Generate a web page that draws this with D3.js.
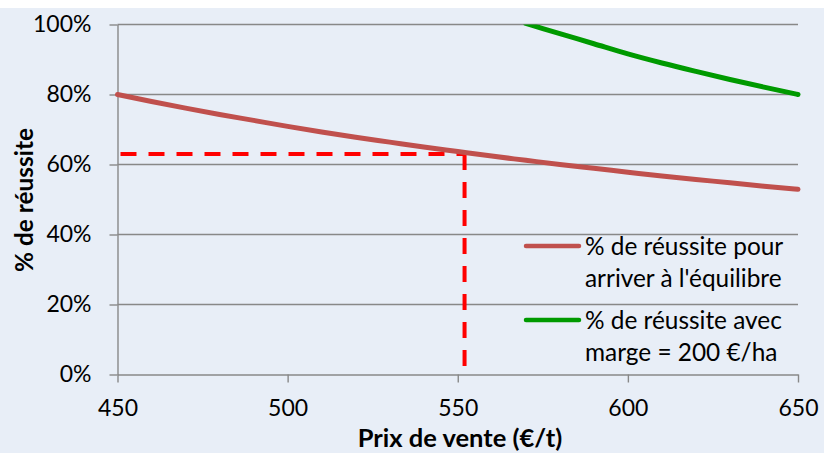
<!DOCTYPE html>
<html>
<head>
<meta charset="utf-8">
<script src="https://cdn.jsdelivr.net/npm/d3@7"></script>
<style>
  html, body { margin: 0; padding: 0; background: #ffffff; }
  svg { display: block; }
  text { font-family: Lato, "Open Sans", sans-serif; fill: #000; }
</style>
</head>
<body>
<svg id="chart" width="824" height="453"></svg>
<script>
// Prix de vente (€/t)
const prices = [450, 460, 470, 480, 490, 500, 510, 520, 530, 540, 550,
                560, 570, 580, 590, 600, 610, 620, 630, 640, 650];
// % de réussite pour arriver à l'équilibre
const breakEven = [0.800, 0.780, 0.761, 0.743, 0.726, 0.709, 0.693, 0.678, 0.664, 0.650, 0.637,
                   0.624, 0.612, 0.600, 0.589, 0.578, 0.567, 0.557, 0.548, 0.538, 0.529];
// % de réussite avec marge = 200 €/ha
const marginPrices = [570, 580, 590, 600, 610, 620, 630, 640, 650];
const marginValues = [1.003, 0.974, 0.945, 0.916, 0.890, 0.866, 0.843, 0.821, 0.800];
// Prix de vente retenu et % de réussite correspondant
const markerPrice = 552;
const markerValue = 0.63;

const xTicks = [450, 500, 550, 600, 650];
const yTicks = [0, 0.2, 0.4, 0.6, 0.8, 1.0];
const seriesNames = ["% de réussite pour|arriver à l'équilibre", "% de réussite avec|marge = 200 €/ha"];
const seriesColors = ["#c0504d", "#009a00"];

(function draw() {
  const svg = d3.select("#chart");
  const W = 824, H = 453;
  const mLeft = 117.5, mRight = 798, mTop = 24.5, mBottom = 374.5;

  svg.append("rect").attr("x", 0).attr("y", 8).attr("width", W).attr("height", H - 8)
    .attr("fill", "#e8eef7");

  const x = d3.scaleLinear().domain([450, 650]).range([mLeft, mRight]);
  const y = d3.scaleLinear().domain([0, 1]).range([mBottom, mTop]);

  const gridColor = "#888888";

  // Horizontal gridlines
  svg.append("g").selectAll("line").data(yTicks.filter(d => d > 0)).join("line")
    .attr("x1", mLeft).attr("x2", mRight)
    .attr("y1", d => y(d)).attr("y2", d => y(d))
    .attr("stroke", gridColor).attr("stroke-width", 1.4);

  // Y axis
  const yAxis = svg.append("g").attr("transform", `translate(${mLeft},0)`)
    .call(d3.axisLeft(y).tickValues(yTicks).tickFormat(d3.format(".0%")).tickSize(8).tickPadding(18).tickSizeOuter(0));
  yAxis.select(".domain").attr("stroke", gridColor).attr("stroke-width", 1.4);
  yAxis.selectAll(".tick line").attr("stroke", gridColor).attr("stroke-width", 1.4);
  yAxis.selectAll(".tick text").attr("font-size", 23).attr("font-family", "Lato").attr("fill", "#000");

  // X axis
  const xAxis = svg.append("g").attr("transform", `translate(0,${mBottom})`)
    .call(d3.axisBottom(x).tickValues(xTicks).tickFormat(d3.format("d")).tickSize(8).tickPadding(17).tickSizeOuter(0));
  xAxis.select(".domain").attr("stroke", gridColor).attr("stroke-width", 1.4);
  xAxis.selectAll(".tick line").attr("stroke", gridColor).attr("stroke-width", 1.4);
  xAxis.selectAll(".tick text").attr("font-size", 23).attr("font-family", "Lato").attr("fill", "#000");

  // Axis titles
  svg.append("text").attr("x", 460).attr("y", 447).attr("text-anchor", "middle")
    .attr("font-size", 25.5).attr("font-weight", "bold").text("Prix de vente (€/t)");
  svg.append("text").attr("transform", "translate(33,200) rotate(-90)").attr("text-anchor", "middle")
    .attr("font-size", 24.4).attr("font-weight", "bold").text("% de réussite");

  svg.append("clipPath").attr("id", "plot-clip").append("rect")
    .attr("x", mLeft).attr("y", mTop).attr("width", mRight - mLeft + 4).attr("height", mBottom - mTop);

  // Dashed reference lines
  const dash = "16 12";
  svg.append("line").attr("x1", x(450) + 3).attr("x2", x(markerPrice))
    .attr("y1", y(markerValue)).attr("y2", y(markerValue))
    .attr("stroke", "#ff0000").attr("stroke-width", 4).attr("stroke-dasharray", dash);
  svg.append("line").attr("x1", x(markerPrice)).attr("x2", x(markerPrice))
    .attr("y1", y(markerValue)).attr("y2", y(0))
    .attr("stroke", "#ff0000").attr("stroke-width", 4).attr("stroke-dasharray", dash);

  const line = d3.line().x(d => x(d[0])).y(d => y(d[1])).curve(d3.curveMonotoneX);

  svg.append("path").datum(prices.map((p, i) => [p, breakEven[i]]))
    .attr("d", line).attr("fill", "none").attr("stroke", seriesColors[0])
    .attr("stroke-width", 5).attr("stroke-linecap", "round");

  svg.append("g").attr("clip-path", "url(#plot-clip)")
    .append("path").datum(marginPrices.map((p, i) => [p, marginValues[i]]))
    .attr("d", line).attr("fill", "none").attr("stroke", seriesColors[1])
    .attr("stroke-width", 5).attr("stroke-linecap", "round");

  // Legend
  const legendY = [246, 320];
  seriesNames.forEach((name, i) => {
    const g = svg.append("g");
    g.append("line").attr("x1", 526).attr("x2", 579)
      .attr("y1", legendY[i]).attr("y2", legendY[i])
      .attr("stroke", seriesColors[i]).attr("stroke-width", 4.5).attr("stroke-linecap", "round");
    name.split("|").forEach((t, j) => {
      g.append("text").attr("x", 585).attr("y", legendY[i] + 9 + j * 32)
        .attr("font-size", 24.4).text(t);
    });
  });
})();
</script>
</body>
</html>
